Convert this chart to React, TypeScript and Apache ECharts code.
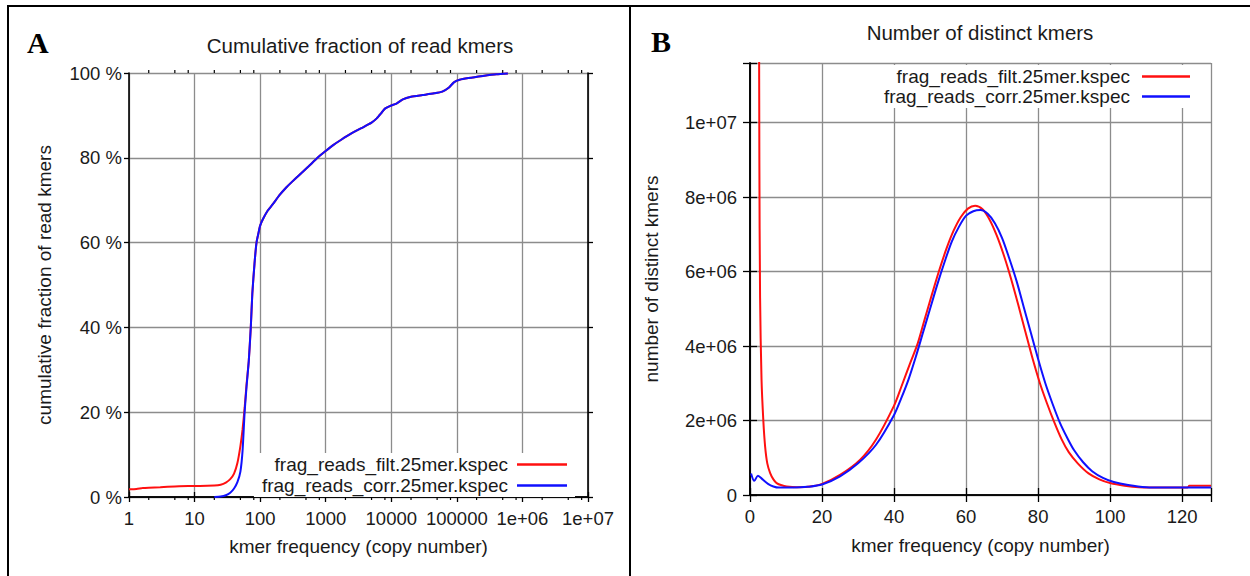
import React, { useEffect, useRef } from 'react';
import * as echarts from 'echarts';

const FONT = '"Liberation Sans", Arial, Helvetica, sans-serif';
const TXT = '#1a1a1a';

const legendNames = ['frag_reads_filt.25mer.kspec', 'frag_reads_corr.25mer.kspec'];

// Panel A: cumulative fraction of read kmers (%), log x
const filtFreqA = [1, 1.3, 1.6, 2, 3, 5, 8, 12, 20, 25, 30, 35, 40, 45, 50, 54, 58, 62, 67, 72, 76, 82, 88, 95, 100, 110, 130, 155, 200, 250, 300, 400, 550, 750, 1000, 1300, 1700, 2500, 3500, 5000, 6000, 7000, 8000, 9500, 12000, 15000, 20000, 30000, 45000, 60000, 75000, 90000, 110000, 150000, 250000, 400000, 600000];
const filtCumA = [1.8, 1.9, 2.1, 2.2, 2.3, 2.5, 2.6, 2.6, 2.7, 2.9, 3.4, 4.2, 5.5, 8, 12, 16, 21, 26.5, 32, 40, 48, 55, 60, 62.5, 64, 65.5, 67.5, 69, 71.3, 73, 74.2, 76, 78, 80, 81.6, 83, 84.2, 85.8, 87, 88.3, 89.3, 90.5, 91.6, 92.2, 92.8, 93.8, 94.4, 94.8, 95.2, 95.6, 96.5, 97.8, 98.4, 98.8, 99.3, 99.7, 99.9];
const corrFreqA = [20, 25, 30, 35, 40, 45, 50, 54, 58, 62, 67, 72, 76, 82, 88, 95, 100, 110, 130, 155, 200, 250, 300, 400, 550, 750, 1000, 1300, 1700, 2500, 3500, 5000, 6000, 7000, 8000, 9500, 12000, 15000, 20000, 30000, 45000, 60000, 75000, 90000, 110000, 150000, 250000, 400000, 600000];
const corrCumA = [0, 0.1, 0.4, 1, 2, 3.5, 6, 11, 20, 26, 32, 40, 48, 55, 60, 62.5, 64, 65.5, 67.5, 69, 71.3, 73, 74.2, 76, 78, 80, 81.6, 83, 84.2, 85.8, 87, 88.3, 89.3, 90.5, 91.6, 92.2, 92.8, 93.8, 94.4, 94.8, 95.2, 95.6, 96.5, 97.8, 98.4, 98.8, 99.3, 99.7, 99.9];

// Panel B: number of distinct kmers
const filtFreqB = [2.5, 2.6, 2.8, 3.2, 3.7, 4.2, 4.8, 5.6, 6.5, 7.4, 8.8, 10.2, 13, 16, 20, 25, 30.6, 35, 40, 42, 44.5, 46.5, 48.5, 50.5, 52.5, 54.5, 56.5, 58.5, 60.5, 62.5, 64.5, 66.5, 68.5, 70.5, 72.5, 74.5, 76.5, 78.5, 80.5, 82.5, 84.5, 86.5, 88.5, 91, 94, 97, 100, 104, 108, 115, 121.5, 122, 128];
const filtCountB = [14e6, 9e6, 5.3e6, 3.1e6, 2.0e6, 1.3e6, 0.85e6, 0.59e6, 0.42e6, 0.32e6, 0.26e6, 0.23e6, 0.21e6, 0.22e6, 0.3e6, 0.54e6, 0.95e6, 1.49e6, 2.4e6, 2.9e6, 3.55e6, 4.05e6, 4.72e6, 5.38e6, 6.02e6, 6.6e6, 7.09e6, 7.46e6, 7.69e6, 7.77e6, 7.68e6, 7.4e6, 6.97e6, 6.43e6, 5.8e6, 5.1e6, 4.37e6, 3.65e6, 3.0e6, 2.45e6, 1.95e6, 1.5e6, 1.15e6, 0.85e6, 0.58e6, 0.42e6, 0.32e6, 0.25e6, 0.21e6, 0.2e6, 0.2e6, 0.25e6, 0.25e6];
const corrFreqB = [0.3, 1.2, 2.2, 3.5, 5, 6.5, 8, 12, 16, 20, 25, 30, 35, 40, 42, 44, 46, 48, 50, 52, 54, 56, 58, 60, 62, 64, 66, 68, 70, 72, 74, 76, 78, 80, 82, 84, 86, 88, 90, 92.5, 95, 98, 101, 105, 110, 115, 128];
const corrCountB = [0.58e6, 0.38e6, 0.52e6, 0.42e6, 0.3e6, 0.23e6, 0.2e6, 0.2e6, 0.22e6, 0.28e6, 0.5e6, 0.85e6, 1.35e6, 2.15e6, 2.6e6, 3.1e6, 3.7e6, 4.35e6, 5.0e6, 5.65e6, 6.25e6, 6.8e6, 7.2e6, 7.5e6, 7.62e6, 7.65e6, 7.55e6, 7.3e6, 6.9e6, 6.35e6, 5.75e6, 5.05e6, 4.35e6, 3.65e6, 3.0e6, 2.45e6, 1.95e6, 1.55e6, 1.2e6, 0.88e6, 0.64e6, 0.46e6, 0.35e6, 0.27e6, 0.21e6, 0.2e6, 0.2e6];

const zip = (xs: number[], ys: number[]) => xs.map((x, i) => [x, ys[i]]);

const minorTicksA: number[] = [];
for (let d = 1; d < 1e7; d *= 10) for (const m of [2, 5, 8]) minorTicksA.push(d * m);

const fmtLog = (v: number) => {
  const e = Math.round(Math.log10(v));
  return e >= 6 ? `1e+${String(e).padStart(2, '0')}` : String(Math.round(v));
};
const fmtSci = (v: number) => {
  if (v === 0) return '0';
  if (v > 1e7 + 1) return '';
  const e = Math.floor(Math.log10(v) + 1e-9);
  const m = Math.round(v / Math.pow(10, e));
  return `${m}e+${String(e).padStart(2, '0')}`;
};

const axisLine = { show: true, lineStyle: { color: '#000', width: 1.6 } };
const gridLine = { show: true, lineStyle: { color: '#8c8c8c', width: 1.3 } };
const tick = (len: number) => ({ show: true, inside: false, length: len, lineStyle: { color: '#000', width: 1.3 } });
const lbl = (extra: any) => ({ color: TXT, fontSize: 18.5, fontFamily: FONT, ...extra });
const nameStyle = { color: TXT, fontSize: 19, fontFamily: FONT };

export default function App() {
  const ref = useRef<HTMLDivElement>(null);
  useEffect(() => {
    if (!ref.current) return;
    const chart = echarts.init(ref.current, undefined, { renderer: 'svg' });
    const option: any = {
      animation: false,
      backgroundColor: '#fff',
      textStyle: { fontFamily: FONT },
      title: [
        { text: 'Cumulative fraction of read kmers', left: 360, top: 35, textAlign: 'center', padding: 0, textStyle: { fontSize: 20.5, fontWeight: 'normal', color: TXT, fontFamily: FONT } },
        { text: 'Number of distinct kmers', left: 980, top: 22, textAlign: 'center', padding: 0, textStyle: { fontSize: 20.5, fontWeight: 'normal', color: TXT, fontFamily: FONT } },
      ],
      grid: [
        { left: 129, top: 73, width: 459, height: 424 },
        { left: 750, top: 63, width: 461, height: 432 },
      ],
      xAxis: [
        {
          gridIndex: 0, type: 'log', logBase: 10, position: 'bottom', min: 1, max: 1e7, splitNumber: 7,
          axisLine, axisTick: tick(5), splitLine: gridLine,
          axisLabel: lbl({ margin: 12, formatter: fmtLog }),
          name: 'kmer frequency (copy number)', nameLocation: 'middle', nameGap: 40, nameTextStyle: nameStyle,
        },
        {
          gridIndex: 0, type: 'log', logBase: 10, position: 'top', min: 1, max: 1e7, splitNumber: 7,
          axisLine, axisTick: tick(5), splitLine: { show: false }, axisLabel: { show: false },
        },
        {
          gridIndex: 1, type: 'value', position: 'bottom', min: 0, max: 128, interval: 20,
          axisLine, axisTick: tick(7), splitLine: gridLine,
          axisLabel: lbl({ margin: 12, formatter: (v: number) => (v > 120 ? '' : String(v)) }),
          name: 'kmer frequency (copy number)', nameLocation: 'middle', nameGap: 41, nameTextStyle: nameStyle,
        },
        {
          gridIndex: 1, type: 'value', position: 'top', min: 0, max: 128, interval: 20,
          axisLine, axisTick: tick(7), splitLine: { show: false }, axisLabel: { show: false },
        },
      ],
      yAxis: [
        {
          gridIndex: 0, type: 'value', position: 'left', min: 0, max: 100, interval: 20,
          axisLine, axisTick: tick(5), splitLine: gridLine,
          axisLabel: lbl({ margin: 7, formatter: '{value} %' }),
          name: 'cumulative fraction of read kmers', nameLocation: 'middle', nameGap: 75, nameTextStyle: nameStyle,
        },
        {
          gridIndex: 0, type: 'value', position: 'right', min: 0, max: 100, interval: 20,
          axisLine, axisTick: tick(5), splitLine: { show: false }, axisLabel: { show: false },
        },
        {
          gridIndex: 1, type: 'value', position: 'left', min: 0, max: 11.6e6, interval: 2e6,
          axisLine, axisTick: tick(7), splitLine: gridLine,
          axisLabel: lbl({ margin: 13, formatter: fmtSci }),
          name: 'number of distinct kmers', nameLocation: 'middle', nameGap: 89, nameTextStyle: nameStyle,
        },
        {
          gridIndex: 1, type: 'value', position: 'right', min: 0, max: 11.6e6, interval: 2e6,
          axisLine, axisTick: tick(7), splitLine: { show: false }, axisLabel: { show: false },
        },
      ],
      legend: [
        {
          data: legendNames, orient: 'vertical', align: 'right', right: 675, top: 453, itemGap: 2,
          padding: [2, 8, 2, 8], backgroundColor: '#fff', icon: 'rect', itemWidth: 50, itemHeight: 2.5,
          textStyle: { color: TXT, fontSize: 19, fontFamily: FONT, padding: [0, 4, 0, 0] },
          selectedMode: false,
        },
        {
          data: legendNames, orient: 'vertical', align: 'right', right: 52, top: 65, itemGap: 1,
          padding: [2, 8, 2, 8], backgroundColor: '#fff', icon: 'rect', itemWidth: 48, itemHeight: 2.5,
          textStyle: { color: TXT, fontSize: 19, fontFamily: FONT, padding: [0, 7, 0, 0] },
          selectedMode: false,
        },
      ],
      series: [
        {
          name: legendNames[0], type: 'line', xAxisIndex: 0, yAxisIndex: 0, data: zip(filtFreqA, filtCumA),
          showSymbol: false, smooth: 0.2, color: '#ff1010', lineStyle: { color: '#ff1010', width: 2 },
        },
        {
          name: legendNames[1], type: 'line', xAxisIndex: 0, yAxisIndex: 0, data: zip(corrFreqA, corrCumA),
          showSymbol: false, smooth: 0.2, color: '#1010ff', lineStyle: { color: '#1010ff', width: 2 },
        },
        {
          name: legendNames[0], type: 'line', xAxisIndex: 2, yAxisIndex: 2, data: zip(filtFreqB, filtCountB),
          showSymbol: false, smooth: 0.3, clip: true, color: '#ff1010', lineStyle: { color: '#ff1010', width: 2 },
        },
        {
          name: legendNames[1], type: 'line', xAxisIndex: 2, yAxisIndex: 2, data: zip(corrFreqB, corrCountB),
          showSymbol: false, smooth: 0.3, clip: true, color: '#1010ff', lineStyle: { color: '#1010ff', width: 2 },
        },
        {
          type: 'custom', xAxisIndex: 0, yAxisIndex: 0, silent: true,
          data: minorTicksA.map((v) => [v, 0]),
          encode: { x: 0, y: 1 },
          renderItem: (_p: any, api: any) => {
            const v = api.value(0);
            const b = api.coord([v, 0]);
            const t = api.coord([v, 100]);
            return {
              type: 'group',
              children: [
                { type: 'line', shape: { x1: b[0], y1: b[1], x2: b[0], y2: b[1] + 3 }, style: { stroke: '#000', lineWidth: 1.2 } },
                { type: 'line', shape: { x1: t[0], y1: t[1], x2: t[0], y2: t[1] - 3 }, style: { stroke: '#000', lineWidth: 1.2 } },
              ],
            };
          },
        },
      ],
      graphic: [
        { type: 'rect', silent: true, shape: { x: 8, y: 6, width: 622, height: 620 }, style: { fill: 'none', stroke: '#000', lineWidth: 2 } },
        { type: 'rect', silent: true, shape: { x: 630, y: 6, width: 640, height: 620 }, style: { fill: 'none', stroke: '#000', lineWidth: 2 } },
        { type: 'text', silent: true, x: 27, y: 27, style: { text: 'A', font: 'bold 30px "Liberation Serif", "Times New Roman", serif', fill: '#000' } },
        { type: 'text', silent: true, x: 651, y: 26, style: { text: 'B', font: 'bold 30px "Liberation Serif", "Times New Roman", serif', fill: '#000' } },
      ],
    };
    chart.setOption(option);
    return () => chart.dispose();
  }, []);
  return <div ref={ref} style={{ position: 'absolute', left: 0, top: 0, width: 1250, height: 576, background: '#fff' }} />;
}
